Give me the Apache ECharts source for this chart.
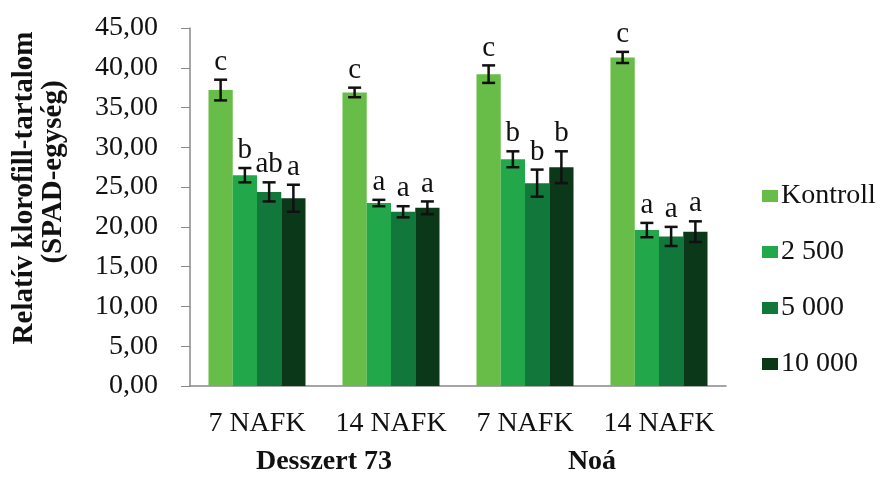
<!DOCTYPE html>
<html><head><meta charset="utf-8">
<script src="https://cdn.jsdelivr.net/npm/echarts@6/dist/echarts.min.js"></script>
<style>html,body{margin:0;padding:0;background:#fff}#c{width:883px;height:478px}</style>
</head><body><div id="c"></div>
<script>
const categories = ['7 NAFK', '14 NAFK', '7 NAFK', '14 NAFK'];
const groups = ['Desszert 73', 'Noá'];
const seriesNames = ['Kontroll', '2 500', '5 000', '10 000'];
const kontroll = [37.2, 36.9, 39.2, 41.3];
const d2500 = [26.5, 23.0, 28.5, 19.6];
const d5000 = [24.4, 21.9, 25.5, 18.8];
const d10000 = [23.6, 22.4, 27.5, 19.4];
const errKontroll = [1.3, 0.6, 1.1, 0.7];
const err2500 = [0.9, 0.4, 1.0, 0.9];
const err5000 = [1.2, 0.7, 1.7, 1.2];
const err10000 = [1.7, 0.8, 2.0, 1.3];
const letKontroll = ['c', 'c', 'c', 'c'];
const let2500 = ['b', 'a', 'b', 'a'];
const let5000 = ['ab', 'a', 'b', 'a'];
const let10000 = ['a', 'a', 'b', 'a'];

const values = [kontroll, d2500, d5000, d10000];
const errs = [errKontroll, err2500, err5000, err10000];
const letters = [letKontroll, let2500, let5000, let10000];
const colors = ['#67bd47', '#22a84b', '#11773a', '#0a3818'];
const FONT = '"Liberation Serif", "Times New Roman", serif';
const GAP = 0.276;

const chart = echarts.init(document.getElementById('c'), null, {renderer: 'canvas'});
const series = [];
values.forEach((vals, si) => {
  series.push({
    name: seriesNames[si], type: 'bar', data: vals,
    barGap: '0%', barCategoryGap: (GAP * 100) + '%',
    itemStyle: {color: colors[si]}, silent: true
  });
});
values.forEach((vals, si) => {
  series.push({
    name: 'err' + si, type: 'custom', xAxisIndex: 0, yAxisIndex: 0, silent: true, z: 5,
    data: vals.map((v, i) => [i, v, errs[si][i]]),
    renderItem: function (params, api) {
      const idx = api.value(0), v = api.value(1), e = api.value(2);
      const bandW = api.size([1, 0])[0];
      const barW = bandW * (1 - GAP) / 4;
      const cx = api.coord([idx, v])[0] + (si - 1.5) * barW;
      const yTop = api.coord([idx, v + e])[1];
      const yBot = api.coord([idx, v - e])[1];
      const cap = 6.5;
      const st = {stroke: '#111', lineWidth: 2.5};
      return {
        type: 'group', children: [
          {type: 'line', shape: {x1: cx, y1: yTop, x2: cx, y2: yBot}, style: st},
          {type: 'line', shape: {x1: cx - cap, y1: yTop, x2: cx + cap, y2: yTop}, style: st},
          {type: 'line', shape: {x1: cx - cap, y1: yBot, x2: cx + cap, y2: yBot}, style: st},
          {type: 'text', x: cx, y: yTop - 3, style: {
            text: letters[si][params.dataIndex], fill: '#111',
            font: '29px ' + FONT, textAlign: 'center', textVerticalAlign: 'bottom'}}
        ]
      };
    }
  });
});

chart.setOption({
  animation: false,
  backgroundColor: '#fff',
  grid: {left: 190, right: 157, top: 28, bottom: 92},
  legend: {
    orient: 'vertical', left: 757, top: 177, itemWidth: 16, itemHeight: 12, itemGap: 28,
    icon: 'rect', data: seriesNames,
    textStyle: {fontFamily: FONT, fontSize: 28, color: '#111', padding: [0, 0, 0, -2]}
  },
  xAxis: [{
    type: 'category', data: categories, position: 'bottom',
    axisLine: {lineStyle: {color: '#888', width: 1.5}},
    axisTick: {show: false},
    axisLabel: {fontFamily: FONT, fontSize: 28, color: '#111', margin: 24, interval: 0}
  }, {
    type: 'category', data: groups, position: 'bottom', offset: 40,
    axisLine: {show: false}, axisTick: {show: false},
    axisLabel: {fontFamily: FONT, fontSize: 28, fontWeight: 'bold', color: '#111', margin: 22, interval: 0}
  }],
  yAxis: {
    type: 'value', min: 0, max: 45, interval: 5,
    splitLine: {show: false},
    axisLine: {show: true, lineStyle: {color: '#888', width: 1.5}},
    axisTick: {show: true, length: 9, lineStyle: {color: '#888'}},
    axisLabel: {fontFamily: FONT, fontSize: 28, color: '#111', margin: 32,
      formatter: v => v.toFixed(2).replace('.', ',')}
  },
  graphic: [
    {type: 'text', x: 25, y: 188, rotation: Math.PI / 2, style: {
      text: 'Relatív klorofill-tartalom', font: 'bold 29px ' + FONT, fill: '#111',
      textAlign: 'center', textVerticalAlign: 'middle'}},
    {type: 'text', x: 54, y: 172, rotation: Math.PI / 2, style: {
      text: '(SPAD-egység)', font: 'bold 29px ' + FONT, fill: '#111',
      textAlign: 'center', textVerticalAlign: 'middle'}}
  ],
  series: series
});
</script></body></html>
